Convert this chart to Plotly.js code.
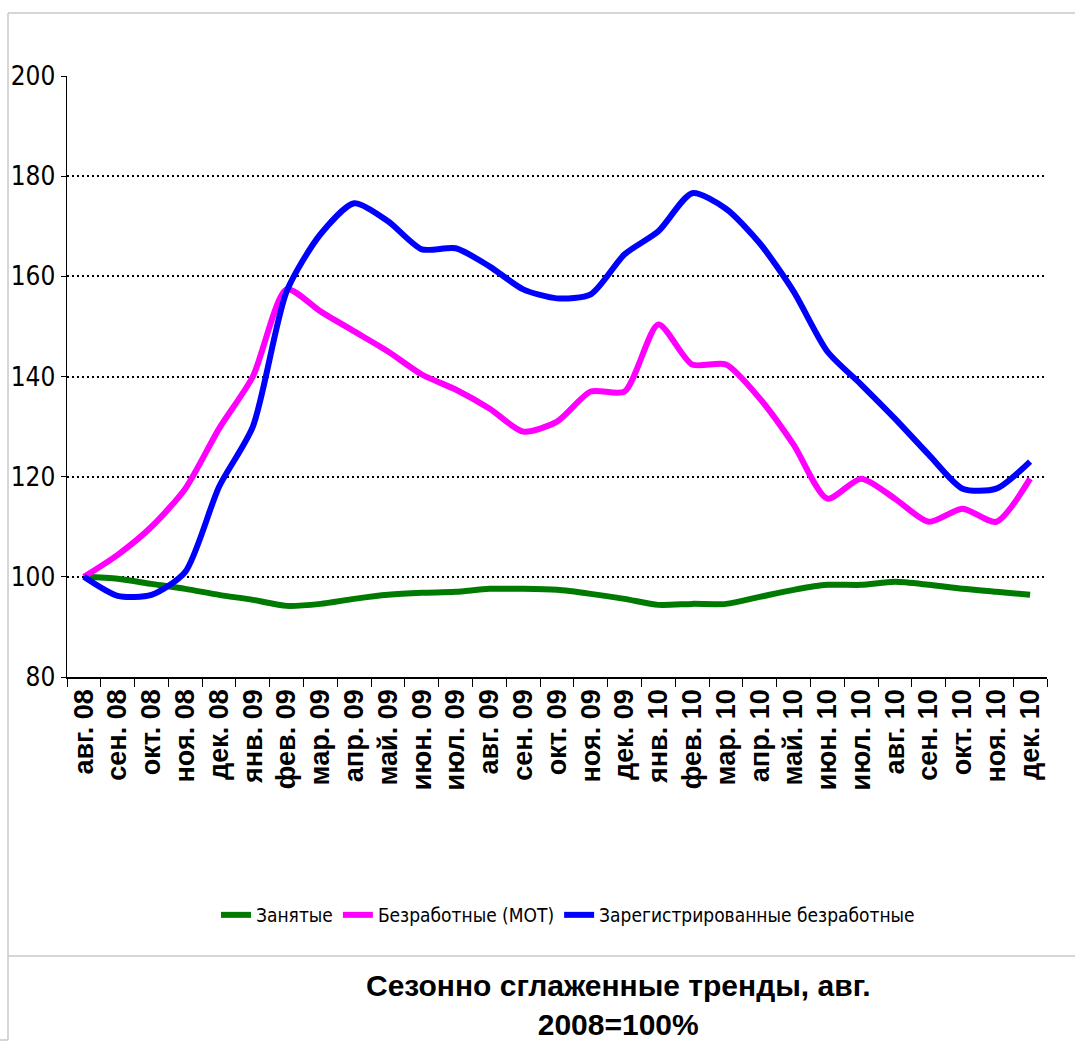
<!DOCTYPE html>
<html>
<head>
<meta charset="utf-8">
<script src="https://cdn.plot.ly/plotly-3.0.1.min.js"></script>
<style>
html,body{margin:0;padding:0;background:#fff;}
#chart{width:1075px;height:1049px;}
</style>
</head>
<body>
<div id="chart"></div>
<script>
var months = ["авг. 08","сен. 08","окт. 08","ноя. 08","дек. 08","янв. 09","фев. 09","мар. 09","апр. 09","май. 09","июн. 09","июл. 09","авг. 09","сен. 09","окт. 09","ноя. 09","дек. 09","янв. 10","фев. 10","мар. 10","апр. 10","май. 10","июн. 10","июл. 10","авг. 10","сен. 10","окт. 10","ноя. 10","дек. 10"];

var employed = [100,99.6,98.6,97.6,96.4,95.4,94.2,94.6,95.6,96.4,96.8,97,97.6,97.6,97.4,96.6,95.6,94.4,94.6,94.6,96,97.4,98.4,98.4,99,98.4,97.6,97,96.4];

var unemployedILO = [100,104.4,110,117.6,129.6,140,157.4,153,149,145,140.4,137.4,133.6,129,131,137,137,150.4,142.4,142.4,135.6,126.4,115.6,119.6,115.6,111,113.6,111,119.6];

var registered = [100,96.2,96.4,101,118,130,157,168.4,174.6,171,165.4,165.6,162,157.4,155.6,156.4,164.4,169,176.6,173.5,166.6,157,145,138.4,131.6,124.4,117.6,117.6,123];

var seriesNames = ["Занятые","Безработные (МОТ)","Зарегистрированные безработные"];
var yTicks = [80,100,120,140,160,180,200];
var titleLines = ["Сезонно сглаженные тренды, авг.","2008=100%"];

// pixel->paper helpers for frame decoration
var L=67, R=1047, T=76, B=677;
function px(x){return (x-L)/(R-L);}
function py(y){return (B-y)/(B-T);}

function mk(name, y, color){
  return {type:"scatter", mode:"lines", name:name, x:months, y:y,
    line:{color:color, width:6, shape:"spline", smoothing:0.7}, hoverinfo:"x+y"};
}

var data = [
  mk(seriesNames[0], employed, "#007a00"),
  mk(seriesNames[1], unemployedILO, "#ff00ff"),
  mk(seriesNames[2], registered, "#0000ff")
];

var narrow = "DejaVu Sans Condensed, Liberation Sans Narrow, Liberation Sans, sans-serif";
var frameColor = "#c8c8c8";
var layout = {
  width:1075, height:1049,
  margin:{l:L, r:1075-R, t:T, b:1049-B, pad:0},
  paper_bgcolor:"#ffffff", plot_bgcolor:"#ffffff",
  showlegend:true,
  legend:{orientation:"h", x:px(568), xanchor:"center", y:py(915), yanchor:"middle",
    font:{family:narrow, size:19, color:"#000"},
    itemwidth:30, tracegroupgap:0, bgcolor:"rgba(0,0,0,0)"},
  xaxis:{type:"category", tickson:"boundaries", ticks:"outside", ticklen:8, tickwidth:1, tickcolor:"#000",
    tickangle:-90, showgrid:false, showline:true, linecolor:"#000", linewidth:1.5,
    tickfont:{family:"Liberation Sans, Arial, sans-serif", size:27, color:"#000", weight:"bold"},
    range:[-0.5, months.length-0.5], zeroline:false, fixedrange:true},
  yaxis:{range:[80,200], tickmode:"array", tickvals:yTicks, ticktext:yTicks.map(String),
    ticks:"outside", ticklen:5, tickcolor:"#000", showline:true, linecolor:"#000", linewidth:1.5,
    showgrid:true, gridcolor:"#000", gridwidth:2, griddash:"2px,3px", zeroline:false,
    tickfont:{family:narrow, size:26, color:"#000"},
    fixedrange:true},
  annotations:[
    {xref:"paper", yref:"paper", x:px(618), y:py(968), xanchor:"center", yanchor:"top",
     text:"<b>"+titleLines[0]+"<br>"+titleLines[1]+"</b>", showarrow:false, align:"center", borderpad:0,
     font:{family:"Liberation Sans, Arial, sans-serif", size:30, color:"#000"}}
  ],
  shapes:[
    {type:"line", xref:"paper", yref:"paper", x0:px(8), x1:px(1075), y0:py(13), y1:py(13), line:{color:frameColor, width:1.5}},
    {type:"line", xref:"paper", yref:"paper", x0:px(8), x1:px(8), y0:py(13), y1:py(1040), line:{color:frameColor, width:1.5}},
    {type:"line", xref:"paper", yref:"paper", x0:px(8), x1:px(1075), y0:py(956), y1:py(956), line:{color:frameColor, width:1.5}},
    {type:"line", xref:"paper", yref:"paper", x0:px(0), x1:px(8), y0:py(1040), y1:py(1040), line:{color:frameColor, width:1.5}}
  ]
};

Plotly.newPlot("chart", data, layout, {displayModeBar:false, staticPlot:true});
</script>
</body>
</html>
